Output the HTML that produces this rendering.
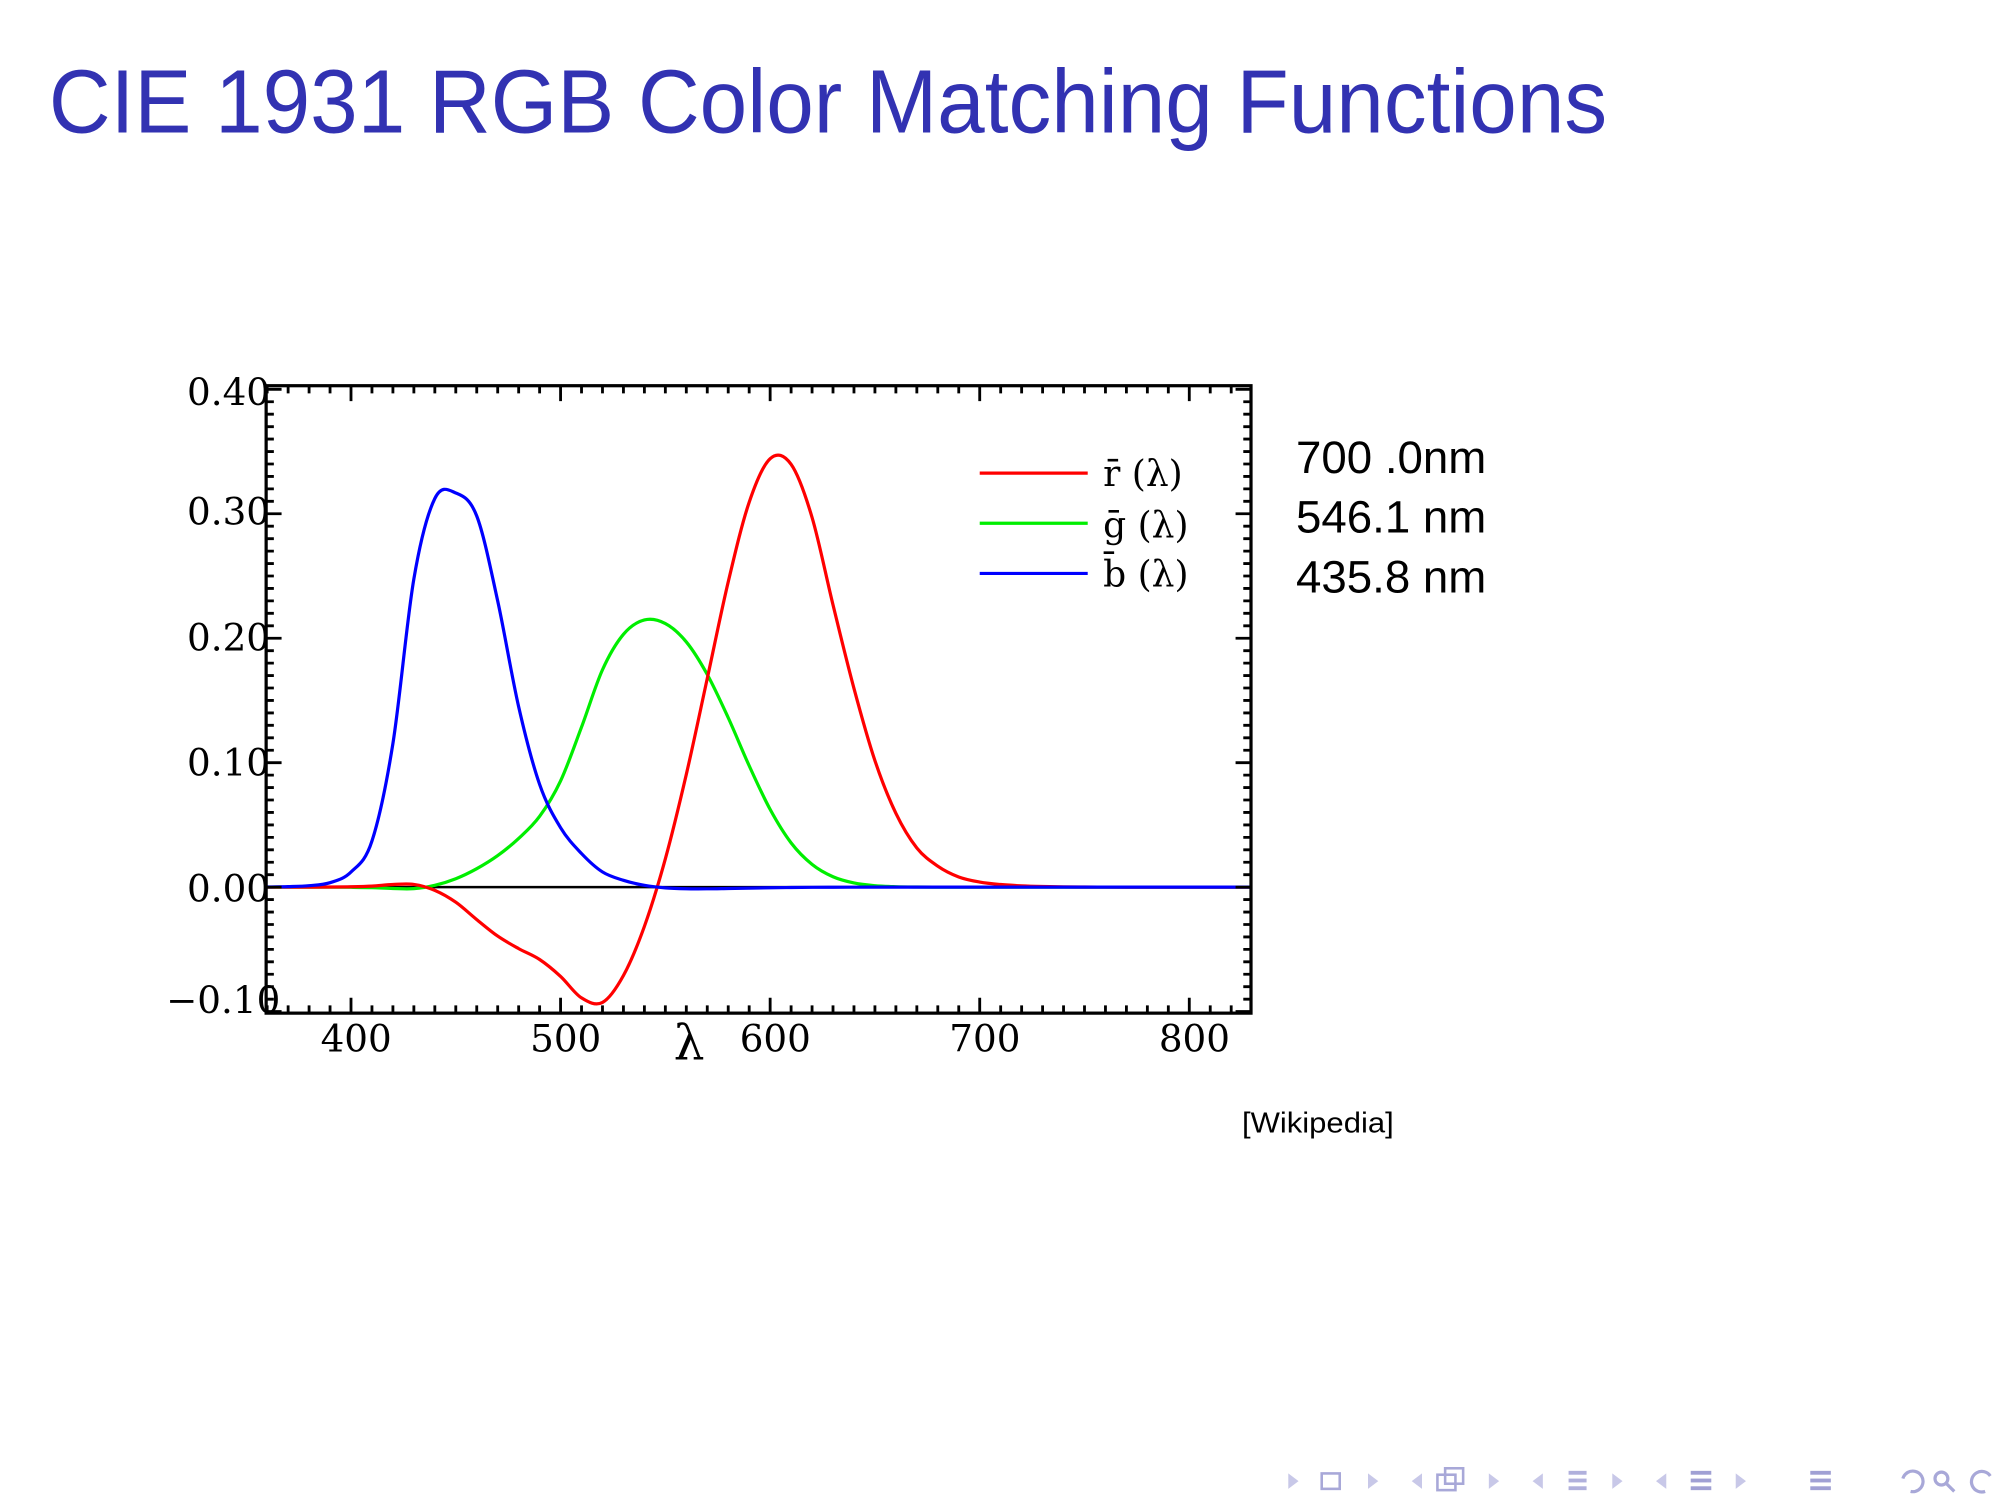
<!DOCTYPE html>
<html><head><meta charset="utf-8"><style>
html,body{margin:0;padding:0;background:#fff;width:2016px;height:1512px;overflow:hidden}
svg{display:block}
</style></head><body>
<svg id="s" width="2016" height="1512" viewBox="0 0 1568 1176" xmlns="http://www.w3.org/2000/svg">
<text x="38" y="103" font-family="Liberation Sans, sans-serif" font-size="70" fill="#3232b2" textLength="1212" lengthAdjust="spacingAndGlyphs">CIE 1931 RGB Color Matching Functions</text>
<g id="plot"></g>
<g font-family="DejaVu Serif, Liberation Serif, serif" font-size="29" fill="#000">
<text x="210" y="315" text-anchor="end">0.40</text>
<text x="210" y="408" text-anchor="end">0.30</text>
<text x="210" y="506" text-anchor="end">0.20</text>
<text x="210" y="603" text-anchor="end">0.10</text>
<text x="210" y="701" text-anchor="end">0.00</text>
<text x="218" y="788" text-anchor="end">−0.10</text>
<text x="277" y="818" text-anchor="middle">400</text>
<text x="440" y="818" text-anchor="middle">500</text>
<text x="603" y="818" text-anchor="middle">600</text>
<text x="766" y="818" text-anchor="middle">700</text>
<text x="929" y="818" text-anchor="middle">800</text>
<text x="536" y="824" text-anchor="middle" font-size="38">λ</text>
<text x="858" y="378" font-size="28">r̄ (λ)</text>
<text x="858" y="418" font-size="28">ḡ (λ)</text>
<text x="858" y="456" font-size="28">b̄ (λ)</text>
</g>
<g stroke-width="2.5">
<line x1="762" y1="368" x2="846" y2="368" stroke="#f00"/>
<line x1="762" y1="407" x2="846" y2="407" stroke="#0e0"/>
<line x1="762" y1="446" x2="846" y2="446" stroke="#00f"/>
</g>
<g font-family="Liberation Sans, sans-serif" font-size="35" fill="#000">
<text x="1008" y="368" textLength="148" lengthAdjust="spacingAndGlyphs">700 .0nm</text>
<text x="1008" y="414" textLength="148" lengthAdjust="spacingAndGlyphs">546.1 nm</text>
<text x="1008" y="461" textLength="148" lengthAdjust="spacingAndGlyphs">435.8 nm</text>
<text x="966" y="881" font-size="22" textLength="118" lengthAdjust="spacingAndGlyphs">[Wikipedia]</text>
</g>
<g fill="#c8c8e8" stroke="none">
<polygon points="1010,1152 1002,1146 1002,1158" />
<rect x="1028" y="1146" width="14" height="12" fill="none" stroke="#a8a8d8" stroke-width="2"/>
<polygon points="1064,1146 1072,1152 1064,1158"/>
<polygon points="1106,1146 1098,1152 1106,1158"/>
<rect x="1118" y="1147" width="14" height="12" fill="none" stroke="#a8a8d8" stroke-width="2"/>
<rect x="1124" y="1142" width="14" height="12" fill="none" stroke="#a8a8d8" stroke-width="2"/>
<polygon points="1158,1146 1166,1152 1158,1158"/>
<polygon points="1200,1146 1192,1152 1200,1158"/>
<rect x="1220" y="1144" width="14" height="3" fill="#b0b0dc"/><rect x="1220" y="1150" width="14" height="3" fill="#b0b0dc"/><rect x="1220" y="1156" width="14" height="3" fill="#b0b0dc"/>
<polygon points="1254,1146 1262,1152 1254,1158"/>
<polygon points="1296,1146 1288,1152 1296,1158"/>
<rect x="1315" y="1144" width="16" height="3" fill="#a0a0d4"/><rect x="1315" y="1150" width="16" height="3" fill="#a0a0d4"/><rect x="1315" y="1156" width="16" height="3" fill="#a0a0d4"/>
<polygon points="1350,1146 1358,1152 1350,1158"/>
<rect x="1408" y="1144" width="16" height="3" fill="#a0a0d4"/><rect x="1408" y="1150" width="16" height="3" fill="#a0a0d4"/><rect x="1408" y="1156" width="16" height="3" fill="#a0a0d4"/>
</g>
<g fill="none" stroke="#a8a8d8" stroke-width="2.5">
<path d="M1480,1150 a8,8 0 1 1 6,10"/>
<circle cx="1510" cy="1150" r="5"/><line x1="1514" y1="1154" x2="1520" y2="1160"/>
<path d="M1548,1148 a8,8 0 1 0 -4,12"/>
</g>
</svg>
<script>
const NS="http://www.w3.org/2000/svg";
const X=l=>273+(l-400)*1.63, Y=v=>690-v*968;
const g=document.getElementById('plot');
function el(t,a){const e=document.createElementNS(NS,t);for(const k in a)e.setAttribute(k,a[k]);g.appendChild(e);return e;}
const L=[360,370,380,390,400,410,420,430,440,450,460,470,480,490,500,510,520,530,540,550,560,570,580,590,600,610,620,630,640,650,660,670,680,690,700,710,720,730,740,750,760,770,780,830];
const R=[0,0.00001,0.00003,0.0001,0.0003,0.00084,0.00211,0.00218,-0.00261,-0.01213,-0.02608,-0.03933,-0.04939,-0.05814,-0.07173,-0.08901,-0.09264,-0.07101,-0.03152,0.02279,0.0906,0.16768,0.24526,0.30928,0.34429,0.33971,0.29708,0.22677,0.15968,0.10167,0.05932,0.03149,0.01687,0.00819,0.0041,0.0021,0.00105,0.00052,0.00025,0.00012,0.00006,0.00003,0.00001,0];
const G=[0,0,-0.00001,-0.00004,-0.00014,-0.00041,-0.0011,-0.00119,0.00149,0.00678,0.01485,0.02538,0.03914,0.05689,0.08536,0.1286,0.17468,0.20317,0.21466,0.21178,0.19702,0.17087,0.1361,0.09754,0.06246,0.03557,0.01828,0.00833,0.00334,0.00116,0.00037,0.00011,0.00003,0,0,0,0,0,0,0,0,0,0,0];
const B=[0.0001,0.0004,0.00117,0.00359,0.01214,0.03707,0.11541,0.24769,0.31228,0.3167,0.29821,0.22991,0.14494,0.08257,0.04776,0.02698,0.01221,0.00549,0.00146,-0.00058,-0.0013,-0.00135,-0.00108,-0.00079,-0.00049,-0.0003,-0.00015,-0.00008,-0.00003,-0.00001,0,0,0,0,0,0,0,0,0,0,0,0,0,0];
function path(V){const p=L.map((l,i)=>[X(l),Y(V[i])]);let d=`M${p[0][0]},${p[0][1]}`;
for(let i=0;i<p.length-1;i++){const p0=p[Math.max(0,i-1)],p1=p[i],p2=p[i+1],p3=p[Math.min(p.length-1,i+2)];
d+=` C${p1[0]+(p2[0]-p0[0])/6},${p1[1]+(p2[1]-p0[1])/6} ${p2[0]-(p3[0]-p1[0])/6},${p2[1]-(p3[1]-p1[1])/6} ${p2[0]},${p2[1]}`;}return d;}
const cp=el('clipPath',{id:'c'});const r=document.createElementNS(NS,'rect');r.setAttribute('x',207);r.setAttribute('y',300);r.setAttribute('width',766);r.setAttribute('height',488);cp.appendChild(r);
el('line',{x1:207,y1:690,x2:973,y2:690,stroke:'#000','stroke-width':2});
const gc=el('g',{'clip-path':'url(#c)',fill:'none','stroke-width':2.5});
[[G,'#0e0'],[R,'#f00'],[B,'#00f']].forEach(([V,c])=>{const e=document.createElementNS(NS,'path');e.setAttribute('d',path(V));e.setAttribute('stroke',c);gc.appendChild(e);});
el('rect',{x:207,y:300,width:766,height:488,fill:'none',stroke:'#000','stroke-width':2.5});
let t='';
for(let l=360;l<=829;l+=10){const x=X(l),m=l%100==0?12:6;t+=`M${x},788v-${m}M${x},300v${m}`;}
for(let k=-10;k<=40;k++){const y=Y(k/100),m=k%10==0?12:6;t+=`M207,${y}h${m}M973,${y}h-${m}`;}
el('path',{d:t,stroke:'#000','stroke-width':2.2,fill:'none'});
</script>
</body></html>
